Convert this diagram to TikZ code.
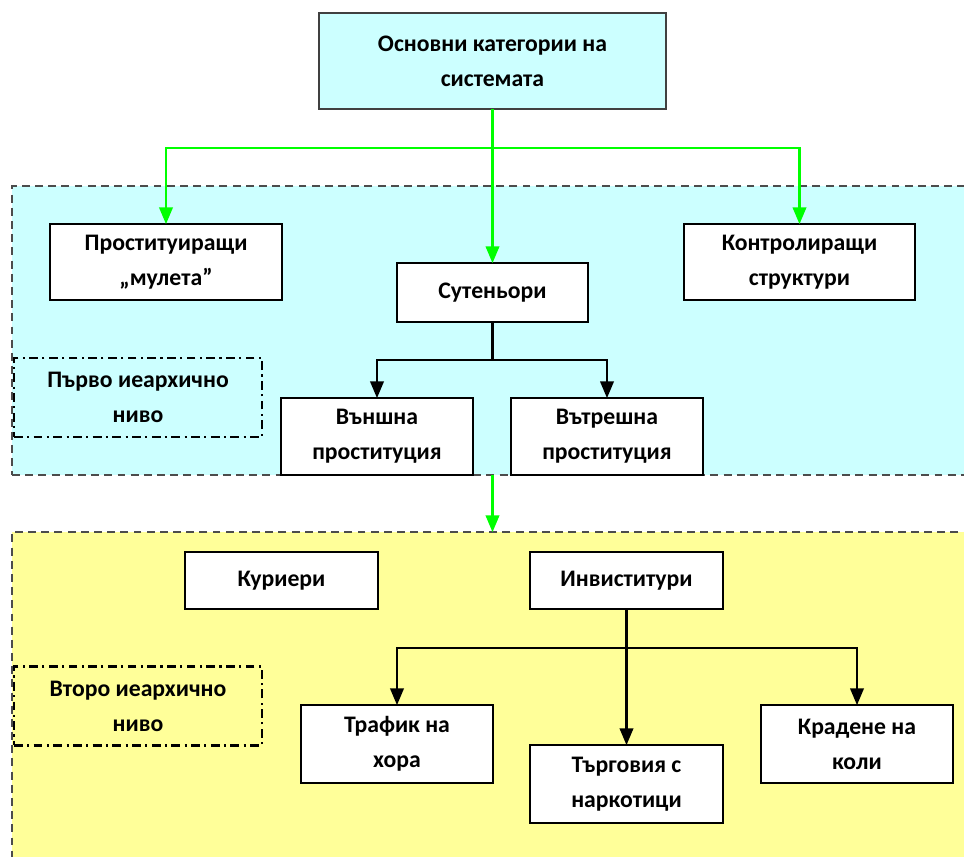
\documentclass[tikz,border=0pt]{standalone}
\usepackage{fontspec}
\setmainfont{Carlito}
\usepackage{tikz}
\usetikzlibrary{arrows,shapes,positioning,calc}

\definecolor{lvlcyan}{HTML}{CCFFFF}
\definecolor{lvlyellow}{HTML}{FFFF99}
\definecolor{brightgreen}{HTML}{00FF00}

\begin{document}
\begin{tikzpicture}[x=0.02cm,y=-0.02cm,>=triangle 45,semithick]
\tikzstyle{every node}=[font=\fontsize{13.5}{20}\selectfont\bfseries,
align=center, inner sep=0pt, outer sep=0pt]
\tikzstyle{box}=[rectangle, draw=black, line width=1.6pt, fill=white,
minimum width=3.84cm, minimum height=1.54cm]
\tikzstyle{region}=[rectangle, draw=black!70, dashed, line width=1.2pt,
dash pattern=on 4.5pt off 3pt, minimum width=19.56cm]
\tikzstyle{lvlbox}=[rectangle, draw=black, line width=1.6pt,
dash pattern=on 5pt off 2.5pt on 1.2pt off 2.5pt,
minimum width=4.96cm, minimum height=1.58cm]
\tikzstyle{garrow}=[->, draw=brightgreen, line width=1.2pt]
\tikzstyle{barrow}=[->, draw=black, line width=1.2pt]

\useasboundingbox (0,0) rectangle (964,857);

%hierarchy levels
\node[region, fill=lvlcyan, minimum height=5.78cm] (lvl1) at (501,330.5) {};
\node[region, fill=lvlyellow, minimum height=6.96cm] (lvl2) at (501,706) {};

\node[lvlbox] (first) at (138,397.5) {Първо иеархично\\ниво};
\node[lvlbox] (second) at (138,706) {Второ иеархично\\ниво};

%top category
\node[box, fill=lvlcyan, draw=black!75, minimum width=6.94cm,
minimum height=1.92cm] (top) at (492.5,61) {Основни категории на\\системата};

%first level
\node[box, minimum width=4.64cm, minimum height=1.52cm] (prost) at (166,262)
  {Проституиращи\\„мулета”};
\node[box, minimum width=3.82cm, minimum height=1.18cm] (sut) at (492.5,292.5)
  {Сутеньори};
\node[box, minimum width=4.62cm, minimum height=1.52cm] (kontr) at (799.5,262)
  {Контролиращи\\структури};
\node[box] (vun) at (377,436.5) {Външна\\проституция};
\node[box] (vut) at (607,436.5) {Вътрешна\\проституция};

%second level
\node[box, minimum width=3.86cm, minimum height=1.14cm] (kur) at (281.5,580.5)
  {Куриери};
\node[box, minimum width=3.86cm, minimum height=1.14cm] (inv) at (626.5,580.5)
  {Инвиститури};
\node[box, minimum height=1.56cm] (traf) at (397,744) {Трафик на\\хора};
\node[box, minimum width=3.86cm, minimum height=1.56cm] (targ) at (626.5,784)
  {Търговия с\\наркотици};
\node[box, minimum height=1.56cm] (krad) at (857,744) {Крадене на\\коли};

%green transitions
\coordinate (gsplit) at ([yshift=-0.78cm]top.south);
\draw[garrow] (top.south) -- (sut.north);
\draw[garrow] (gsplit) -| (prost.north);
\draw[garrow] (gsplit) -| (kontr.north);
\draw[garrow] (sut.south |- lvl1.south) -- (sut.south |- lvl2.north);

%black transitions
\coordinate (ssplit) at ([yshift=-0.76cm]sut.south);
\draw[barrow] (sut.south) -- (ssplit) -| (vun.north);
\draw[barrow] (ssplit) -| (vut.north);

\coordinate (isplit) at ([yshift=-0.78cm]inv.south);
\draw[barrow] (inv.south) -- (targ.north);
\draw[barrow] (isplit) -| (traf.north);
\draw[barrow] (isplit) -| (krad.north);

\end{tikzpicture}
\end{document}
